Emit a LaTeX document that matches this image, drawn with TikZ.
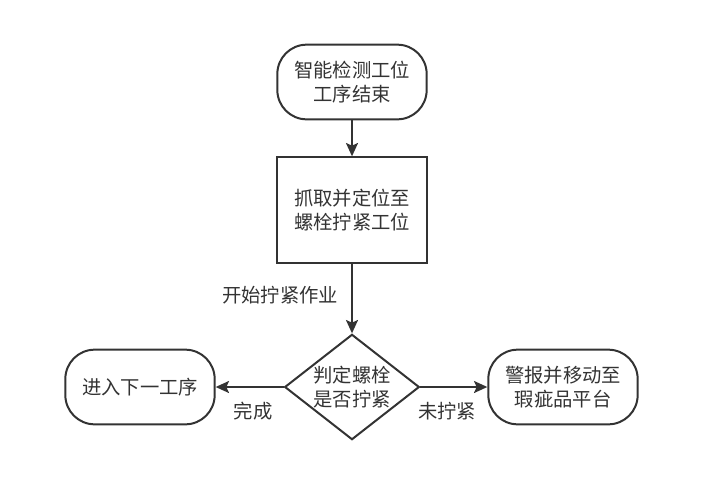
\documentclass[tikz,border=0pt]{standalone}
\usepackage{fontspec}
\setmainfont{Noto Sans CJK SC}
\usetikzlibrary{arrows.meta,shapes.geometric}
\definecolor{linegray}{HTML}{333333}

\begin{document}
\begin{tikzpicture}[x=.75pt,y=-.75pt,
  every node/.style={text=linegray,font=\fontsize{14.5}{18}\selectfont,align=center},
  term/.style={draw=linegray,line width=1.5pt,rounded corners=22pt,minimum width=112pt,minimum height=56pt},
  proc/.style={draw=linegray,line width=1.5pt,minimum width=112pt,minimum height=79pt},
  decide/.style={draw=linegray,line width=1.5pt,diamond,aspect=1.3,inner sep=0pt,minimum width=101pt,minimum height=79pt},
  flow/.style={draw=linegray,line width=1.5pt,-{Stealth[length=10pt,width=9pt,inset=2pt]}}]
  \useasboundingbox (0,0) rectangle (721,479);
  \node[term] (finish) at (352,82) {智能检测工位\\工序结束};
  \node[proc] (grab) at (352,210) {抓取并定位至\\螺栓拧紧工位};
  \node[decide] (check) at (352,387) {判定螺栓\\是否拧紧};
  \node[term] (next) at (140,387) {进入下一工序};
  \node[term] (alarm) at (563,387) {警报并移动至\\瑕疵品平台};
  \draw[flow] (finish) -- (grab); \draw[flow] (grab) -- (check);
  \draw[flow] (check) -- (next); \draw[flow] (check) -- (alarm);
  \node (start) at (280,295) {开始拧紧作业};
  \node (done) at (253,411) {完成};
  \node (loose) at (447,411) {未拧紧};
\end{tikzpicture}
\end{document}
